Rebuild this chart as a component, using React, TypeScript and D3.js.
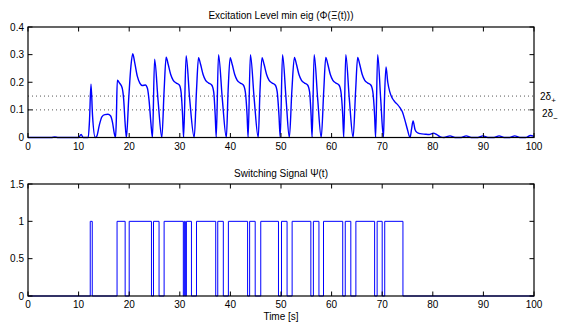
import React from "react";
import * as d3 from "d3";

// ---- data: top panel (time, min eigenvalue) ----
const topT = [
  0, 4.6, 5.3, 6.0, 10.0, 10.5, 10.9, 11.9, 12.15, 12.45, 12.75, 13.3, 13.6, 14.1, 14.6, 15.2, 15.8, 16.3, 16.7, 17.05, 17.3,
  17.45, 17.65, 18.1, 18.6, 18.9, 19.2, 19.45, 19.9, 20.35, 20.7, 21.1, 21.6, 22.1, 22.6, 23.2, 23.6, 23.95, 24.3, 24.6,
  25.02, 25.7, 26.45, 26.9, 27.3, 27.7, 28.2, 28.7, 29.3, 29.9, 30.25, 30.55, 30.75,
  31.25, 31.95, 32.85, 33.3, 33.7, 34.1, 34.6, 35.1, 35.7, 36.3, 36.7, 37.0, 37.2,
  37.65, 38.4, 39.2, 39.55, 39.95, 40.35, 40.85, 41.35, 41.95, 42.55, 42.95, 43.3, 43.5,
  43.95, 44.7, 45.5, 45.85, 46.25, 46.65, 47.15, 47.65, 48.25, 48.85, 49.25, 49.6, 49.85,
  50.3, 51.0, 51.65, 52.15, 52.65, 53.05, 53.55, 54.05, 54.65, 55.25, 55.65, 55.95, 56.15,
  56.55, 57.25, 57.95, 58.45, 58.85, 59.25, 59.75, 60.25, 60.85, 61.45, 61.85, 62.2, 62.4,
  62.8, 63.5, 64.25, 64.75, 65.15, 65.55, 66.05, 66.55, 67.15, 67.75, 68.15, 68.5, 68.7,
  69.1, 69.7, 70.25, 70.45, 70.75, 71.1, 71.5, 72.0, 72.5, 73.0, 73.5, 74.0, 74.5, 75.0, 75.5,
  75.8, 76.1, 76.5, 76.9, 77.5, 78.5, 79.3, 80.1, 80.8, 81.5, 82.2, 83.4, 84.4, 85.6, 86.6, 87.6,
  88.9, 89.9, 90.9, 92.1, 93.1, 94.1, 95.2, 96.2, 97.2, 98.3, 99.3, 100,
];
const topV = [
  0, 0, 0.002, 0, 0, 0.011, 0, 0, 0.06, 0.193, 0.08, 0, 0.005, 0.045, 0.075, 0.083, 0.084, 0.079, 0.055, 0.015, 0,
  0.06, 0.207, 0.197, 0.18, 0.14, 0.05, 0, 0.14, 0.26, 0.303, 0.27, 0.222, 0.197, 0.188, 0.19, 0.178, 0.13, 0.05, 0,
  0.283, 0.135, 0, 0.17, 0.291, 0.265, 0.228, 0.207, 0.197, 0.19, 0.165, 0.08, 0,
  0.296, 0.14, 0, 0.17, 0.289, 0.265, 0.228, 0.207, 0.197, 0.19, 0.165, 0.08, 0,
  0.3, 0.14, 0, 0.17, 0.289, 0.265, 0.228, 0.207, 0.197, 0.19, 0.165, 0.08, 0,
  0.3, 0.14, 0, 0.17, 0.289, 0.265, 0.228, 0.207, 0.197, 0.19, 0.165, 0.08, 0,
  0.3, 0.14, 0, 0.17, 0.29, 0.265, 0.228, 0.207, 0.197, 0.19, 0.165, 0.08, 0,
  0.3, 0.14, 0, 0.17, 0.29, 0.265, 0.228, 0.207, 0.197, 0.19, 0.165, 0.08, 0,
  0.3, 0.14, 0, 0.17, 0.29, 0.265, 0.228, 0.207, 0.197, 0.19, 0.165, 0.08, 0,
  0.3, 0.14, 0, 0.14, 0.255, 0.2, 0.165, 0.142, 0.129, 0.12, 0.108, 0.092, 0.062, 0.028, 0,
  0.03, 0.06, 0.028, 0.018, 0.014, 0.012, 0.011, 0.016, 0.01, 0.002, 0, 0.006, 0, 0, 0.006, 0,
  0, 0.006, 0, 0, 0.006, 0, 0, 0.006, 0, 0, 0.007, 0.004,
];

// ---- data: bottom panel, switching instants (alternating on/off, starting at 0) ----
const switchTimes = [
  12.3, 12.7, 17.6, 19.2, 20.0, 24.4, 24.8, 25.9, 26.9, 30.7, 30.9, 31.1, 31.3, 32.3, 33.3, 37.1,
  37.5, 38.6, 39.6, 43.4, 43.8, 44.9, 46.0, 49.5, 50.1, 51.2, 52.2, 55.9, 56.4, 57.5, 58.4, 62.2,
  62.7, 63.8, 64.8, 68.5, 69.0, 70.0, 70.5, 74.1,
];

const xTicks = [0, 10, 20, 30, 40, 50, 60, 70, 80, 90, 100];
const topYTicks = [0, 0.1, 0.2, 0.3, 0.4];
const botYTicks = [0, 0.5, 1, 1.5];
const thresholds = [0.15, 0.1];

const W = 569;
const H = 325;
const L = 28;
const R = 534;
const top1 = 27, bot1 = 137.5;
const top2 = 184, bot2 = 296;
const FONT = "'Liberation Sans', Arial, Helvetica, sans-serif";
const TICK = 4.5;

function fmt(v: number) {
  if (v === 0) return "0";
  return String(v);
}

function Frame({ y, yTicks, x }: { y: d3.ScaleLinear<number, number>; yTicks: number[]; x: d3.ScaleLinear<number, number> }) {
  const [yb, yt] = y.range();
  return (
    <g>
      {xTicks.map((t) => (
        <g key={"x" + t}>
          <line x1={x(t)} x2={x(t)} y1={yb} y2={yb - TICK} stroke="#000" strokeWidth={1} />
          <line x1={x(t)} x2={x(t)} y1={yt} y2={yt + TICK} stroke="#000" strokeWidth={1} />
          <text x={x(t)} y={yb + 12} textAnchor="middle" fontSize={10} fontFamily={FONT} fill="#000">
            {t}
          </text>
        </g>
      ))}
      {yTicks.map((t) => (
        <g key={"y" + t}>
          <line x1={L} x2={L + TICK} y1={y(t)} y2={y(t)} stroke="#000" strokeWidth={1} />
          <line x1={R} x2={R - TICK} y1={y(t)} y2={y(t)} stroke="#000" strokeWidth={1} />
          <text x={L - 4} y={y(t)} dy="0.35em" textAnchor="end" fontSize={10} fontFamily={FONT} fill="#000">
            {fmt(t)}
          </text>
        </g>
      ))}
      <rect x={L} y={yt} width={R - L} height={yb - yt} fill="none" stroke="#000" strokeWidth={1.2} />
    </g>
  );
}

export default function App() {
  const x = d3.scaleLinear().domain([0, 100]).range([L, R]);
  const y1 = d3.scaleLinear().domain([0, 0.4]).range([bot1, top1]);
  const y2 = d3.scaleLinear().domain([0, 1.5]).range([bot2, top2]);

  const topData = topT.map((t, i) => [t, topV[i]] as [number, number]);
  const line1 = d3
    .line<[number, number]>()
    .x((d) => x(d[0]))
    .y((d) => y1(d[1]))
    .curve(d3.curveMonotoneX);

  const swData: [number, number][] = [[0, 0]];
  switchTimes.forEach((t, i) => swData.push([t, i % 2 === 0 ? 1 : 0]));
  swData.push([100, 0]);
  const line2 = d3
    .line<[number, number]>()
    .x((d) => x(d[0]))
    .y((d) => y2(d[1]))
    .curve(d3.curveStepAfter);

  return (
    <svg width={W} height={H} style={{ position: "absolute", left: 0, top: 0, background: "#fff" }}>
      <rect x={0} y={0} width={W} height={H} fill="#fff" />
      {/* top panel */}
      <text x={(L + R) / 2} y={18.5} textAnchor="middle" fontSize={10} fontFamily={FONT} fill="#000">
        Excitation Level min eig (Φ(Ξ(t)))
      </text>
      {thresholds.map((v) => (
        <line key={v} x1={L} x2={R} y1={y1(v)} y2={y1(v)} stroke="#555" strokeWidth={1} strokeDasharray="1 3" />
      ))}
      <path d={line1(topData) || ""} fill="none" stroke="#0000ff" strokeWidth={1.4} />
      <Frame y={y1} yTicks={topYTicks} x={x} />
      <text x={540} y={100} fontSize={10} fontFamily={FONT} fill="#000">
        2δ<tspan fontSize={8} dy={3}>+</tspan>
      </text>
      <text x={542} y={117} fontSize={10} fontFamily={FONT} fill="#000">
        2δ<tspan fontSize={8} dy={4}>−</tspan>
      </text>

      {/* bottom panel */}
      <text x={(L + R) / 2} y={176.5} textAnchor="middle" fontSize={10} fontFamily={FONT} fill="#000">
        Switching Signal Ψ(t)
      </text>
      <path d={line2(swData) || ""} fill="none" stroke="#0000ff" strokeWidth={1} />
      <Frame y={y2} yTicks={botYTicks} x={x} />
      <text x={(L + R) / 2} y={320} textAnchor="middle" fontSize={10} fontFamily={FONT} fill="#000">
        Time [s]
      </text>
    </svg>
  );
}
